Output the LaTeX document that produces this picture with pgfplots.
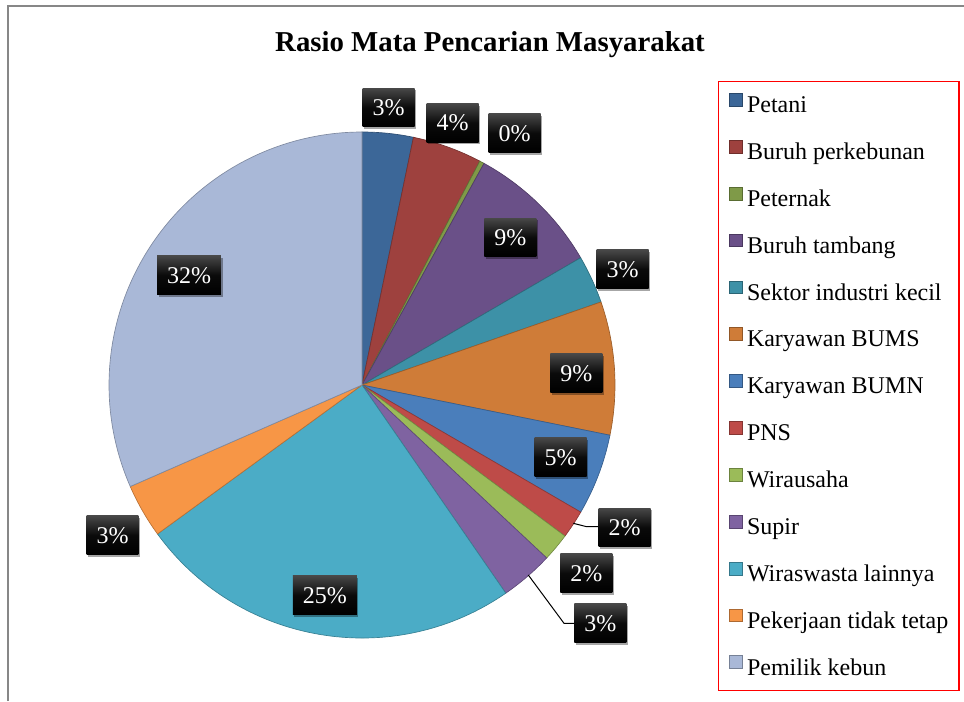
\documentclass[border=0pt]{standalone}
\usepackage{pgfplots}
\pgfplotsset{compat=1.18}
\usepackage{pgfplotstable}
\usepackage{fontspec}
\setmainfont{Liberation Serif}
\usetikzlibrary{shadows}

\definecolor{pc0}{HTML}{3C6798}
\definecolor{pc1}{HTML}{9E413E}
\definecolor{pc2}{HTML}{7F9A48}
\definecolor{pc3}{HTML}{6A5088}
\definecolor{pc4}{HTML}{3D91A7}
\definecolor{pc5}{HTML}{CF7C38}
\definecolor{pc6}{HTML}{4A7EBB}
\definecolor{pc7}{HTML}{BE4B48}
\definecolor{pc8}{HTML}{9BBB59}
\definecolor{pc9}{HTML}{7F63A1}
\definecolor{pc10}{HTML}{4BACC6}
\definecolor{pc11}{HTML}{F79646}
\definecolor{pc12}{HTML}{A9B8D7}

\pgfplotstableread[col sep=comma]{
name,value,lab,lx,ly
Petani,3.26,3,388.5,107.5
Buruh perkebunan,4.45,4,452.5,123
Peternak,0.30,0,514.5,133.3
Buruh tambang,8.60,9,510.3,237.5
Sektor industri kecil,3.07,3,622.5,269.3
Karyawan BUMS,8.50,9,576.3,373.3
Karyawan BUMN,5.20,5,560.5,457.3
PNS,1.80,2,624.5,527.5
Wirausaha,1.80,2,586.3,573.2
Supir,3.40,3,600.3,623.3
Wiraswasta lainnya,24.60,25,324.8,595.2
Pekerjaan tidak tetap,3.45,3,112.5,535.3
Pemilik kebun,31.57,32,189,275.2
}\pietable
\pgfplotstablecreatecol[create col/expr accum={\pgfmathaccuma + \thisrow{value}}{0}]{cum}\pietable

\pgfplotsset{sq/.style={legend image code/.code={\draw[##1] (0pt,-1pt) rectangle (9.6pt,8.6pt);}}}

\tikzset{lbl/.style={top color=black!72, bottom color=black, middle color=black!96,
  text=white, font=\fontsize{18}{21}\selectfont, minimum height=29pt, inner xsep=7.5pt, inner ysep=0pt,
  drop shadow={shadow xshift=1.2pt, shadow yshift=-1.6pt, opacity=0.35, fill=black}}}

\begin{document}
\begin{tikzpicture}
\begin{axis}[x=0.75pt, y=0.75pt, xmin=0, xmax=964, ymin=0, ymax=701, y dir=reverse,
  hide axis, clip=false,
  legend cell align=left,
  legend style={at={(axis cs:718,81)}, anchor=north west, draw=red, line width=1.1pt,
    font=\fontsize{18}{21}\selectfont, inner xsep=8pt, inner ysep=8.5pt,
    nodes={inner sep=0pt, text height=14.5pt, text depth=3pt},
    row sep=17.5pt, column sep=3pt}]
\coordinate (TL) at (axis cs:0,0);
\coordinate (BR) at (axis cs:964,701);
\draw[color=black!47, line width=1.5pt] (axis cs:8,701) -- (axis cs:8,6) -- (axis cs:964,6);
\node[font=\bfseries\fontsize{21.6}{26}\selectfont] at (axis cs:490,45) {Rasio Mata Pencarian Masyarakat};
\pgfplotsinvokeforeach{0,...,12}{
  \pgfplotstablegetelem{#1}{value}\of\pietable \let\pv\pgfplotsretval
  \pgfplotstablegetelem{#1}{cum}\of\pietable \let\pcum\pgfplotsretval
  \pgfplotstablegetelem{#1}{name}\of\pietable \let\pnm\pgfplotsretval
  \pgfmathsetmacro\sa{90-3.6*(\pcum-\pv)}
  \pgfmathsetmacro\ea{90-3.6*\pcum}
  \edef\temp{\noexpand\fill[fill=pc#1, draw=pc#1!75!black, line width=0.5pt] (axis cs:362,385) -- ++(\sa:189.75pt) arc[start angle=\sa, end angle=\ea, radius=189.75pt] -- cycle;
    \noexpand\addlegendimage{sq, fill=pc#1, draw=pc#1!70!black, line width=0.6pt}
    \noexpand\addlegendentry{\pnm}}
  \temp
}
\draw[black, line width=0.75pt] (axis cs:573.3,523.3) -- (axis cs:586.7,526.7) -- (axis cs:599,526.7);
\draw[black, line width=0.75pt] (axis cs:528.3,575) -- (axis cs:564,623.3) -- (axis cs:574,623.3);
\pgfplotsinvokeforeach{0,...,12}{
  \pgfplotstablegetelem{#1}{lab}\of\pietable \let\plab\pgfplotsretval
  \pgfplotstablegetelem{#1}{lx}\of\pietable \let\plx\pgfplotsretval
  \pgfplotstablegetelem{#1}{ly}\of\pietable \let\ply\pgfplotsretval
  \edef\temp{\noexpand\node[lbl] at (axis cs:\plx,\ply) {\plab\noexpand\%};}
  \temp
}
\end{axis}
\pgfresetboundingbox
\path[use as bounding box] (TL) rectangle (BR);
\end{tikzpicture}
\end{document}
